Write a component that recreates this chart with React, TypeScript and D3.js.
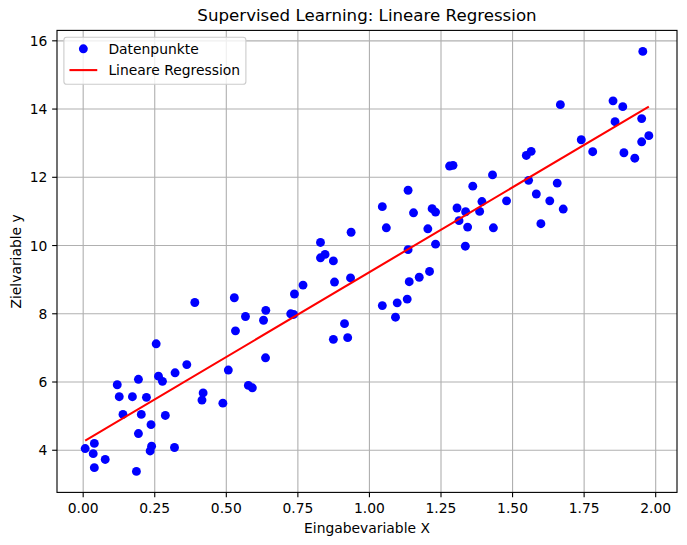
import React from "react";
import * as d3 from "d3";

const pointsX: number[] = [
  0.255, 0.362, 0.321, 0.263, 0.277, 0.193, 0.119, 0.126, 0.172, 0.221, 0.139, 0.203, 0.287, 0.237, 0.193, 0.239, 0.234, 0.319, 0.007, 0.039, 0.035, 0.077, 0.039, 0.186,
  0.768, 0.738, 0.725, 0.735, 0.638, 0.63, 0.567, 0.528, 0.532, 0.39, 0.637, 0.507, 0.577, 0.591, 0.419, 0.415, 0.488,
  1.135, 1.045, 1.154, 1.059, 1.204, 0.936, 0.829, 0.845, 0.829, 0.874, 0.878, 0.934, 1.135, 1.139, 1.174, 1.21, 1.045, 1.097, 1.132, 1.091, 0.913, 0.874, 0.924,
  1.548, 1.565, 1.28, 1.292, 1.43, 1.361, 1.556, 1.583, 1.63, 1.479, 1.393, 1.385, 1.336, 1.306, 1.219, 1.231, 1.313, 1.343, 1.433, 1.599, 1.231, 1.335,
  1.955, 1.851, 1.885, 1.667, 1.858, 1.951, 1.74, 1.976, 1.951, 1.78, 1.889, 1.927, 1.656, 1.677,
];
const pointsY: number[] = [
  7.12, 6.51, 6.27, 6.17, 6.02, 6.08, 5.92, 5.57, 5.57, 5.55, 5.05, 5.05, 5.02, 4.75, 4.49, 4.12, 3.98, 4.08, 4.05, 4.2, 3.9, 3.73, 3.49, 3.38,
  8.84, 8.58, 8.0, 7.98, 8.1, 7.81, 7.92, 8.47, 7.5, 8.33, 6.71, 6.35, 5.9, 5.83, 5.68, 5.47, 5.38,
  11.62, 11.14, 10.96, 10.52, 10.49, 10.39, 10.09, 9.74, 9.64, 9.55, 8.93, 9.05, 9.88, 8.94, 9.07, 9.24, 8.24, 8.32, 8.43, 7.9, 7.71, 7.25, 7.3,
  12.64, 12.76, 12.33, 12.35, 12.07, 11.74, 11.91, 11.51, 11.31, 11.31, 11.29, 11.0, 10.99, 11.1, 11.08, 10.98, 10.73, 10.54, 10.52, 10.64, 10.04, 9.98,
  15.69, 14.24, 14.07, 14.13, 13.63, 13.72, 13.1, 13.22, 13.04, 12.75, 12.72, 12.56, 11.83, 11.07,
];
const regIntercept = 4.25;
const regSlope = 4.97;

const xTicks: number[] = [0, 0.25, 0.5, 0.75, 1.0, 1.25, 1.5, 1.75, 2.0];
const yTicks: number[] = [4, 6, 8, 10, 12, 14, 16];

const titleText = "Supervised Learning: Lineare Regression";
const xLabelText = "Eingabevariable X";
const yLabelText = "Zielvariable y";
const legendLabels: string[] = ["Datenpunkte", "Lineare Regression"];

const W = 687;
const H = 545;
const M = { left: 57, right: 677, top: 30.4, bottom: 492.4 };
const FONT = "DejaVu Sans, sans-serif";
const R = 4.45;

export default function App() {
  const xExt = d3.extent(pointsX) as [number, number];
  const yExt = d3.extent(pointsY) as [number, number];
  const xPad = (xExt[1] - xExt[0]) * 0.05;
  const yPad = (yExt[1] - yExt[0]) * 0.05;
  const x = d3.scaleLinear().domain([xExt[0] - xPad, xExt[1] + xPad]).range([M.left, M.right]);
  const y = d3.scaleLinear().domain([yExt[0] - yPad, yExt[1] + yPad]).range([M.bottom, M.top]);

  const lineData: [number, number][] = [xExt[0], xExt[1]].map((v) => [v, regIntercept + regSlope * v]);
  const linePath = d3
    .line<[number, number]>()
    .x((d) => x(d[0]))
    .y((d) => y(d[1]))(lineData) as string;

  const fmtX = d3.format(".2f");
  const tickLen = 4.86;
  const lgLeft = M.left + 6.9;
  const lgTop = M.top + 6.9;

  return (
    <svg
      width={W}
      height={H}
      style={{ position: "fixed", left: 0, top: 0, background: "#fff" }}
      fontFamily={FONT}
    >
      <rect x={0} y={0} width={W} height={H} fill="#fff" />
      <g stroke="#b0b0b0" strokeWidth={1.11}>
        {xTicks.map((t) => (
          <line key={"gx" + t} x1={x(t)} x2={x(t)} y1={M.top} y2={M.bottom} />
        ))}
        {yTicks.map((t) => (
          <line key={"gy" + t} x1={M.left} x2={M.right} y1={y(t)} y2={y(t)} />
        ))}
      </g>
      <g fill="#0000ff">
        {pointsX.map((v, i) => (
          <circle key={i} cx={x(v)} cy={y(pointsY[i])} r={R} />
        ))}
      </g>
      <path d={linePath} stroke="#ff0000" strokeWidth={2.08} fill="none" />
      <rect
        x={M.left}
        y={M.top}
        width={M.right - M.left}
        height={M.bottom - M.top}
        fill="none"
        stroke="#000"
        strokeWidth={1.11}
      />
      <g>
        {xTicks.map((t) => (
          <g key={"tx" + t}>
            <line x1={x(t)} x2={x(t)} y1={M.bottom} y2={M.bottom + tickLen} stroke="#000" strokeWidth={1.11} />
            <text x={x(t)} y={M.bottom + 20.5} fontSize={13.89} textAnchor="middle" fill="#000">
              {fmtX(t)}
            </text>
          </g>
        ))}
      </g>
      <g>
        {yTicks.map((t) => (
          <g key={"ty" + t}>
            <line x1={M.left - tickLen} x2={M.left} y1={y(t)} y2={y(t)} stroke="#000" strokeWidth={1.11} />
            <text x={M.left - 9.7} y={y(t) + 5} fontSize={13.89} textAnchor="end" fill="#000">
              {t}
            </text>
          </g>
        ))}
      </g>
      <text x={(M.left + M.right) / 2} y={21} fontSize={16.67} textAnchor="middle" fill="#000">
        {titleText}
      </text>
      <text x={(M.left + M.right) / 2} y={533} fontSize={13.89} textAnchor="middle" fill="#000">
        {xLabelText}
      </text>
      <text
        transform={`translate(21, ${(M.top + M.bottom) / 2}) rotate(-90)`}
        fontSize={13.89}
        textAnchor="middle"
        fill="#000"
      >
        {yLabelText}
      </text>
      <g>
        <rect
          x={lgLeft}
          y={lgTop}
          width={182}
          height={47}
          rx={2.8}
          fill="#fff"
          fillOpacity={0.8}
          stroke="#cccccc"
          strokeWidth={1.11}
        />
        <circle cx={lgLeft + 5.56 + 13.9} cy={lgTop + 11.5} r={R} fill="#0000ff" />
        <text x={lgLeft + 44.5} y={lgTop + 16.3} fontSize={13.89} fill="#000">
          {legendLabels[0]}
        </text>
        <line
          x1={lgLeft + 5.56}
          x2={lgLeft + 5.56 + 27.8}
          y1={lgTop + 32.8}
          y2={lgTop + 32.8}
          stroke="#ff0000"
          strokeWidth={2.08}
        />
        <text x={lgLeft + 44.5} y={lgTop + 37.6} fontSize={13.89} fill="#000">
          {legendLabels[1]}
        </text>
      </g>
    </svg>
  );
}
